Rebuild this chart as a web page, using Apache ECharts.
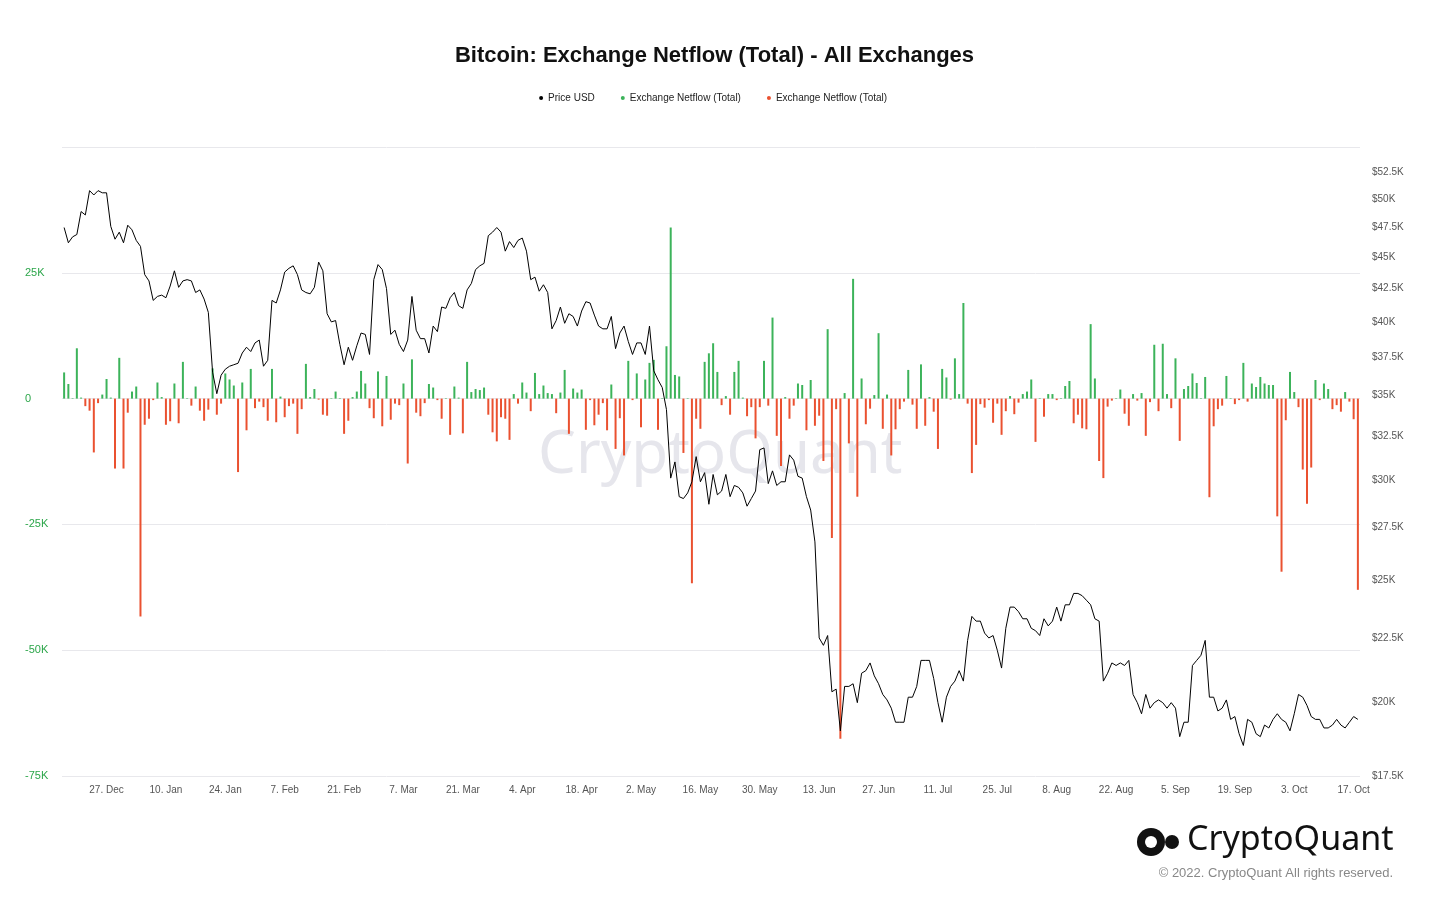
<!DOCTYPE html>
<html><head><meta charset="utf-8">
<script src="https://cdn.jsdelivr.net/npm/echarts@6/dist/echarts.min.js"></script>
<style>html,body{margin:0;padding:0;background:#fff}#c{width:1429px;height:901px}</style>
</head><body><div id="c"></div>
<script>
const startDate = [2021, 11, 17];
const monthNames = ['Jan','Feb','Mar','Apr','May','Jun','Jul','Aug','Sep','Oct','Nov','Dec'];
const priceDec = [47.5,46.2,46.7,46.9,48.9,48.6,50.8,50.4,50.8,50.6,50.6,47.6,46.5,47.1,46.2];
const priceJan = [47.7,47.3,46.4,45.9,43.6,43.1,41.6,41.9,42.0,41.8,42.7,43.9,42.6,43.1,43.2,43.1,42.2,42.4,41.7,40.7,36.5,35.1,36.3,36.7,36.9,37.0,37.1,37.8,38.2,37.9,38.5];
const priceFeb = [38.7,36.9,37.3,41.6,41.4,42.4,43.8,44.1,44.3,43.6,42.4,42.2,42.1,42.6,44.6,43.9,40.6,40.0,40.1,38.4,37.0,38.2,37.3,38.3,39.2,39.1,37.7,43.2];
const priceMar = [44.4,44.0,42.5,39.1,39.4,38.4,37.9,38.7,41.9,39.4,38.8,38.8,37.8,39.7,39.3,41.1,41.0,41.8,42.2,41.2,41.0,42.4,42.9,44.0,44.3,44.5,46.8,47.1,47.5,47.1,45.5];
const priceApr = [46.3,45.8,46.4,46.6,45.5,43.2,43.4,42.3,42.8,42.2,39.5,40.1,41.1,39.9,40.6,40.4,39.7,40.8,41.5,41.4,40.5,39.7,39.5,39.5,40.4,38.1,39.2,39.7,38.6,37.7];
const priceMay = [38.5,38.5,37.7,39.7,36.6,36.0,35.5,34.1,30.1,31.0,29.1,29.0,29.3,29.9,31.3,29.9,30.4,28.7,30.3,29.2,29.4,30.3,29.1,29.7,29.6,29.3,28.6,29.0,29.4,31.7,31.8];
const priceJun = [29.8,30.5,29.7,29.9,29.9,31.4,31.1,30.2,30.1,29.1,28.4,26.8,22.5,22.2,22.6,20.4,20.5,19.0,20.6,20.6,20.7,20.0,21.1,21.2,21.5,21.0,20.7,20.3,20.1,19.8];
const priceJul = [19.3,19.3,19.3,20.2,20.2,20.6,21.6,21.6,21.6,20.9,20.0,19.3,20.2,20.6,20.8,21.2,20.8,22.4,23.4,23.2,23.2,22.7,22.5,22.6,22.0,21.3,22.9,23.8,23.8,23.6,23.3];
const priceAug = [23.3,22.9,22.8,22.6,23.3,23.0,23.2,23.8,23.2,23.9,23.9,24.4,24.4,24.3,24.1,23.9,23.3,23.2,20.8,21.1,21.5,21.4,21.5,21.4,21.6,20.3,20.0,19.6,20.3,19.8,20.0];
const priceSep = [20.1,20.0,19.8,20.0,19.8,18.8,19.3,19.3,21.4,21.6,21.8,22.4,20.2,20.2,19.7,19.8,20.1,19.4,19.5,18.9,18.5,19.4,19.3,18.9,18.8,19.2,19.1,19.4,19.6,19.4];
const priceOct = [19.3,19.0,19.6,20.3,20.2,19.9,19.5,19.4,19.4,19.1,19.1,19.2,19.4,19.2,19.1,19.3,19.5,19.4];
const netflowK = [
5.2,2.9,0.1,10,0.2,-1.5,-2.4,-10.7,-0.9,0.8,
3.9,0.2,-13.9,8.1,-13.9,-2.8,1.4,2.4,-43.3,-5.2,
-4,-0.3,3.2,0.3,-5.2,-4.5,3,-4.9,7.3,0.1,
-1.4,2.4,-2.4,-4.4,-2.2,6,-3.2,-1,5,3.8,
2.6,-14.6,3.2,-6.3,5.9,-1.9,-0.6,-1.7,-4.4,5.9,
-4.7,0.4,-3.7,-1.5,-1,-7,-2.1,6.9,0.3,1.9,
-0.2,-3.2,-3.4,0.1,1.4,0.1,-7,-4.4,0.3,1.4,
5.5,3,-1.9,-3.9,5.4,-5.5,4.5,-4.2,-1,-1.3,
3,-12.9,7.8,-2.8,-3.5,-0.9,2.9,2.2,-0.3,-4,
0.1,-7.2,2.4,0.2,-6.9,7.3,1.3,1.9,1.7,2.2,
-3.2,-6.7,-8.5,-3.7,-4,-8.2,0.9,-1,3.2,1.2,
-2.5,5.1,0.9,2.6,1.1,0.9,-2.9,1.2,5.7,-7,
2,1.2,1.8,-6.2,-0.3,-5.3,-3.2,-0.9,-6.3,2.8,
-10,-3.9,-11.3,7.5,-0.3,5,-5.7,3.8,7.1,7.7,
-6.2,0.1,10.4,34,4.7,4.4,-10.8,0.1,-36.7,-4,
-6,7.3,9,11,5.3,-1.3,0.5,-3.2,5.3,7.5,
0.2,-3.5,-1.7,-7.9,-1.7,7.5,-1.4,16.1,-7.4,-13.4,
0.3,-4,-1.4,3,2.7,-6.3,3.7,-5.4,-3.4,-12.4,
13.8,-27.7,-2.1,-67.6,1.1,-8.9,23.8,-19.5,4,-5.1,
-2,0.7,13,-6,0.8,-11.3,-6.1,-2.1,-0.6,5.7,
-1.2,-6,6.8,-5.4,0.3,-2.6,-10,5.9,4.2,-0.2,
8,0.9,19,-1,-14.8,-9.2,-1.1,-1.8,-0.3,-4.8,
-1,-7.2,-2.5,0.5,-3.1,-0.8,0.9,1.4,3.8,-8.6,
0.1,-3.6,0.9,0.9,-0.3,0.1,2.5,3.5,-4.9,-3.2,
-5.9,-6.1,14.8,4,-12.4,-15.8,-1.6,-0.4,0.1,1.8,
-3,-5.4,0.9,-0.4,1.1,-7.4,-0.7,10.7,-2.5,10.9,
0.9,-1.9,8,-8.4,1.9,2.5,5,3.1,0.1,4.3,
-19.6,-5.5,-2.1,-1.4,4.5,0.1,-1.1,-0.3,7.1,-0.6,
3,2.3,4.3,3,2.7,2.7,-23.4,-34.4,-4.3,5.3,
1.3,-1.7,-14.1,-20.9,-13.7,3.7,-0.3,3,1.9,-2.1,
-1.3,-2.6,1.3,-0.6,-4.1,-38];
const rightTicks = [17500,20000,22500,25000,27500,30000,32500,35000,37500,40000,42500,45000,47500,50000,52500];

const priceK = [].concat(priceDec,priceJan,priceFeb,priceMar,priceApr,priceMay,priceJun,priceJul,priceAug,priceSep,priceOct);
const cats = [];
const d0 = new Date(Date.UTC(startDate[0],startDate[1],startDate[2]));
for (let i=0;i<priceK.length;i++){const d=new Date(d0.getTime()+i*86400000);cats.push(d.getUTCDate()+'. '+monthNames[d.getUTCMonth()]);}
const netPos = netflowK.map(v=>v>0?v*1000:0);
const netNeg = netflowK.map(v=>v<0?v*1000:0);
const priceLn = priceK.map(v=>Math.log(v*1000));

const chart = echarts.init(document.getElementById('c'));
const ff = '"Liberation Sans", Arial, sans-serif';
chart.setOption({
  animation:false,
  textStyle:{fontFamily:ff},
  title:{text:'Bitcoin: Exchange Netflow (Total) - All Exchanges',left:'center',top:40,textStyle:{fontSize:22,fontWeight:'bold',color:'#111',fontFamily:ff}},
  legend:{top:88,left:'center',icon:'circle',itemWidth:4,itemHeight:4,itemGap:26,textStyle:{fontSize:10,color:'#222'},
    data:[{name:'Price USD',itemStyle:{color:'#000'}},{name:'Exchange Netflow (Total)',itemStyle:{color:'#3cb35a'}},{name:'Exchange Netflow (Total) ',itemStyle:{color:'#ea5130'}}]},
  grid:{left:62,right:69,top:147,bottom:125},
  graphic:[
    {type:'text',left:538,top:426,z:-1,style:{text:'CryptoQuant',fontSize:60,fontWeight:'normal',fill:'#e6e6ec',fontFamily:'"Noto Sans", sans-serif'}},
    {type:'circle',shape:{cx:1151,cy:842,r:14},style:{fill:'#111'}},
    {type:'circle',shape:{cx:1151,cy:842,r:6},style:{fill:'#fff'}},
    {type:'circle',shape:{cx:1172,cy:842,r:7},style:{fill:'#111'}},
    {type:'text',left:1187,top:823,style:{text:'CryptoQuant',fontSize:34,fill:'#111',fontFamily:'"Noto Sans", sans-serif'}},
    {type:'text',right:36,top:867,style:{text:'© 2022. CryptoQuant All rights reserved.',fontSize:13,fill:'#888',fontFamily:ff}}
  ],
  xAxis:{type:'category',data:cats,boundaryGap:true,axisLine:{show:false},axisTick:{show:false},
    axisLabel:{fontSize:10,color:'#555',margin:9,interval:(i)=>i>=10&&(i-10)%14===0}},
  yAxis:[
    {type:'value',min:-75000,max:50000,interval:25000,position:'left',
     axisLabel:{align:'left',margin:37,fontSize:11,color:'#2ca64a',showMaxLabel:false,formatter:v=>v===0?'0':(v/1000)+'K'},
     splitLine:{lineStyle:{color:'#e8e8ec'}},axisLine:{show:false},axisTick:{show:false}},
    {type:'value',min:Math.log(17500),max:Math.log(55000),position:'right',
     axisLabel:{customValues:rightTicks.map(v=>Math.log(v)),align:'left',margin:12,fontSize:10,color:'#555',
       formatter:v=>'$'+(Math.round(Math.exp(v)/100)/10)+'K'},
     splitLine:{show:false},axisLine:{show:false},axisTick:{show:false}}
  ],
  series:[
    {name:'Exchange Netflow (Total)',type:'bar',stack:'nf',data:netPos,barWidth:2,itemStyle:{color:'#3cb35a'},yAxisIndex:0},
    {name:'Exchange Netflow (Total) ',type:'bar',stack:'nf',data:netNeg,barWidth:2,itemStyle:{color:'#ea5130'},yAxisIndex:0},
    {name:'Price USD',type:'line',data:priceLn,yAxisIndex:1,showSymbol:false,lineStyle:{color:'#000',width:1},itemStyle:{color:'#000'},z:5}
  ]
});
</script></body></html>
